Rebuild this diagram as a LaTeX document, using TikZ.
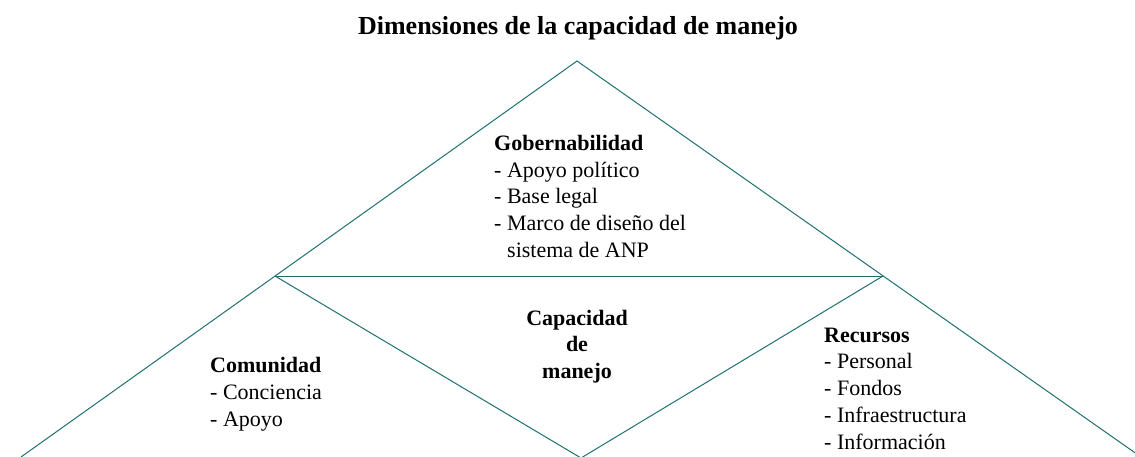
\documentclass[tikz,border=0pt]{standalone}
\usepackage{fontspec}
\setmainfont{Liberation Serif}
\definecolor{edgeteal}{RGB}{31,112,112}
\begin{document}
\begin{tikzpicture}[x=1pt,y=-1pt,
  every node/.style={inner sep=0pt,anchor=base west},
  item/.style={font=\fontsize{22}{26.6}\selectfont},
  head/.style={font=\fontsize{22}{26.6}\selectfont\bfseries},
  edge/.style={draw=edgeteal,line width=1pt}]
  \clip (0,0) rectangle (1135,457);
  \coordinate (apex) at (577,61);
  \coordinate (lv) at (275,276);
  \coordinate (rv) at (883,276);
  \coordinate (bot) at (581,458);
  \coordinate (lfoot) at (21,457);
  \coordinate (rfoot) at (1141,457);
  \draw[edge] (lfoot) -- (apex) -- (rfoot);
  \draw[edge] (lv) -- (rv);
  \draw[edge] (lv) -- (bot) -- (rv);
  \node[anchor=base,font=\fontsize{26}{30}\selectfont\bfseries] (title) at (578,35) {Dimensiones de la capacidad de manejo};
  % top triangle
  \node[head] (gob) at (494,151) {Gobernabilidad};
  \foreach \t [count=\i] in {Apoyo político,Base legal,Marco de diseño del} {
    \node[item] (gob-\i) at (494,151+26.5*\i) {- \t};
  }
  \node[item] (gob-4) at (507,257) {sistema de ANP};
  % centre diamond
  \foreach \t [count=\i from 0] in {Capacidad,de,manejo} {
    \node[head,anchor=base] (cap-\i) at (577,325+26.6*\i) {\t};
  }
  % left side
  \node[head] (com) at (210,372) {Comunidad};
  \foreach \t [count=\i] in {Conciencia,Apoyo} {
    \node[item] (com-\i) at (210,372+27*\i) {- \t};
  }
  % right side
  \node[head] (rec) at (824,342) {Recursos};
  \foreach \t [count=\i] in {Personal,Fondos,Infraestructura,Información} {
    \node[item] (rec-\i) at (824,342+26.8*\i) {- \t};
  }
\end{tikzpicture}
\end{document}
